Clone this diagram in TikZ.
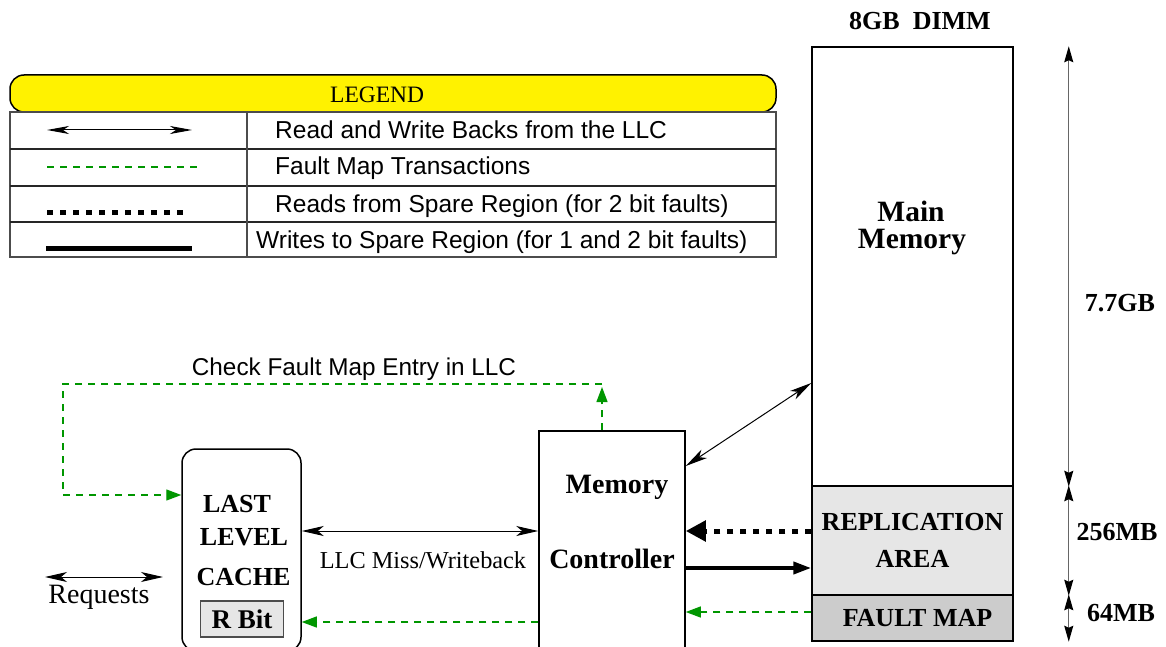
\documentclass[tikz,border=0pt]{standalone}
\usepackage{fontspec}
\setmainfont{Liberation Serif}
\setsansfont{Liberation Sans}
\usetikzlibrary{arrows.meta,positioning}

\definecolor{mapgreen}{RGB}{0,150,0}
\definecolor{replgrey}{RGB}{230,230,230}
\definecolor{mapgrey}{RGB}{204,204,204}

\begin{document}
\begin{tikzpicture}[x=1pt,y=-1pt,
  rw/.style={{Stealth[length=22pt,width=10pt,inset=6pt]}-{Stealth[length=22pt,width=10pt,inset=6pt]},line width=1pt},
  fm/.style={mapgreen,line width=1.3pt,dash pattern=on 7pt off 6pt},
  fmarrow/.style={fm,-{Triangle[length=15pt,width=11pt]}},
  rd/.style={line width=5pt,dash pattern=on 6pt off 7pt},
  wr/.style={line width=4pt},
  dim/.style={black!60,line width=1.2pt,{Stealth[length=16pt,width=9pt,inset=2pt,black]}-{Stealth[length=16pt,width=9pt,inset=2pt,black]}},
  box/.style={draw,line width=1.5pt,inner sep=0pt},
  bigbold/.style={font=\fontsize{26}{30}\selectfont\bfseries},
  legtext/.style={anchor=base west,inner sep=0pt,font=\sffamily\fontsize{24.5}{28}\selectfont}]

\useasboundingbox (0,0) rectangle (1166,647);

% legend
\node[box,fill=yellow,rounded corners=14pt,minimum width=766pt,minimum height=37pt] (legend) at (393,93.5) {};
\node[anchor=base west,inner sep=0pt,font=\fontsize{23.5}{26}\selectfont] (legendtitle) at (330,102.5) {LEGEND};

\draw[line width=1.3pt,black!70] (10,112) rectangle (776,257);
\foreach \y in {149,186,222}
  \draw[line width=1.3pt,black!85] (10,\y) -- (776,\y);
\draw[line width=1.3pt,black!70] (247,112) -- (247,257);

\draw[rw,{Stealth[length=22pt,width=8pt,inset=6pt]}-{Stealth[length=22pt,width=8pt,inset=6pt]}] (47,130) -- (192,130);
\draw[fm] (47,167) -- (200,167);
\draw[rd] (47,212) -- (185,212);
\draw[line width=5pt] (46,248) -- (192,248);

\node[legtext] (rowone) at (275,139) {Read and Write Backs from the LLC};
\node[legtext] (rowtwo) at (275,175) {Fault Map Transactions};
\node[legtext] (rowthree) at (275,212) {Reads from Spare Region (for 2 bit faults)};
\node[legtext] (rowfour) at (256,248) {Writes to Spare Region (for 1 and 2 bit faults)};

% dimm
\node[bigbold] (dimmtitle) at (920,21) {8GB\hspace{0.5em}DIMM};
\node[box,minimum width=201pt,minimum height=439pt] (main) at (912.5,266.5) {};
\node[box,fill=replgrey,minimum width=201pt,minimum height=109pt,align=center,
  font=\fontsize{26}{37}\selectfont\bfseries] (repl) at (912.5,540.5) {REPLICATION\\AREA};
\node[box,fill=mapgrey,minimum width=201pt,minimum height=46pt,bigbold] (fmap) at (912.5,618) {\hspace{10pt}FAULT MAP};
\node[anchor=base,inner sep=0pt,font=\fontsize{29.5}{30}\selectfont\bfseries] (mainone) at (911,221) {Main};
\node[anchor=base,inner sep=0pt,font=\fontsize{29.5}{30}\selectfont\bfseries] (maintwo) at (912,248) {Memory};

\draw[dim] ([xshift=55pt]main.north east) -- ([xshift=55pt]main.south east);
\draw[dim] ([xshift=55pt]repl.north east) -- ([xshift=55pt]repl.south east);
\draw[dim] ([xshift=55pt]fmap.north east) -- ([xshift=55pt]fmap.south east);
\node[bigbold] (sizemain) at (1120,303) {7.7GB};
\node[bigbold] (sizerepl) at (1117,532) {256MB};
\node[bigbold] (sizemap) at (1121,613) {64MB};

% controller and cache
\node[box,minimum width=146pt,minimum height=222pt] (mc) at (612,542) {};
\node[font=\fontsize{28}{30}\selectfont\bfseries] (mcone) at (617,487) {Memory};
\node[font=\fontsize{28}{30}\selectfont\bfseries] (mctwo) at (612,559) {Controller};

\node[box,rounded corners=14pt,minimum width=119pt,minimum height=202pt] (llc) at (241.5,550) {};
\node[bigbold,anchor=base] (llcone) at (237,512) {LAST};
\node[bigbold,anchor=base] (llctwo) at (244,545) {LEVEL};
\node[bigbold,anchor=base] (llcthree) at (243.5,585) {CACHE};
\node[draw=black!70,line width=1.3pt,fill=replgrey,minimum width=83pt,minimum height=36pt,
  font=\fontsize{27}{30}\selectfont\bfseries] (rbit) at (242,619) {R Bit};

\coordinate (reqleft) at (45,577);
\coordinate (reqright) at (163,577);
\draw[rw] (reqleft) -- (reqright);
\node[font=\fontsize{28}{30}\selectfont] (reqtext) at (99,597) {Requests};

% connectors
\draw[rw] (llc.east |- 0,531) -- (mc.west |- 0,531);
\node[font=\fontsize{24.3}{26}\selectfont] (misstext) at (423,560) {LLC Miss/Writeback};

\draw[rw] (mc.east |- 0,466) -- (main.west |- 0,383);
\draw[rd,-{Triangle[length=20pt,width=20pt]}] (repl.west |- 0,531) -- (mc.east |- 0,531);
\draw[wr,-{Triangle[length=18pt,width=12pt]}] (mc.east |- 0,568) -- (repl.west |- 0,568);
\draw[fmarrow] (fmap.west |- 0,612) -- (mc.east |- 0,612);
\draw[fmarrow] (mc.west |- 0,622) -- (llc.east |- 0,622);

\coordinate (chk) at (602,384);
\draw[fmarrow] (mc.north -| chk) -- ([yshift=-3pt]chk);
\draw[fm] (chk) -- (63,384) -- (63,495);
\draw[fmarrow] (63,495) -- (llc.west |- 0,495);
\node[font=\sffamily\fontsize{24.3}{28}\selectfont] (chktext) at (354,369) {Check Fault Map Entry in LLC};

\end{tikzpicture}
\end{document}
